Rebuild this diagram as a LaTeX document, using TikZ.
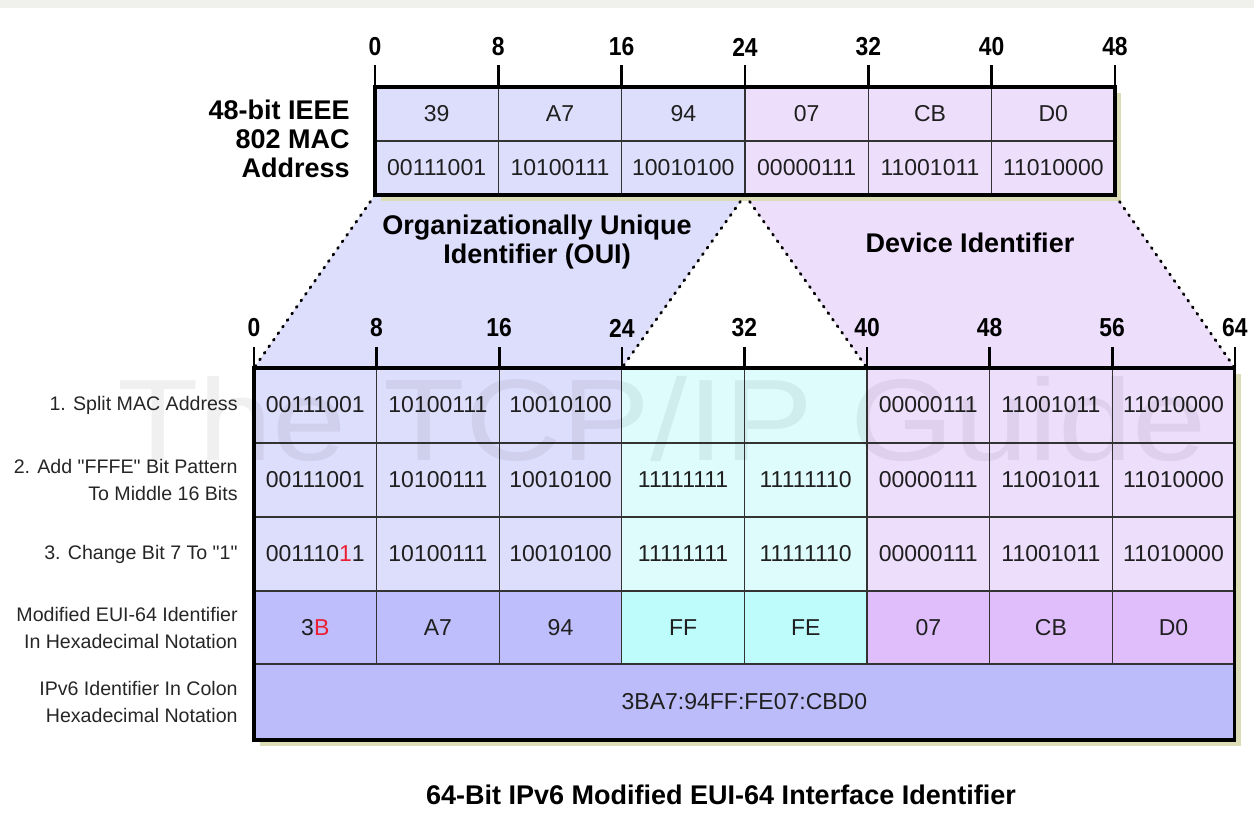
\documentclass[tikz,border=0pt]{standalone}
\usepackage{fontspec}
\setmainfont{Liberation Sans}
\newfontfamily\stepfont{Liberation Sans}
\newfontfamily\ticknumfont[FakeStretch=0.88]{Liberation Sans}
\newfontfamily\markfont[FakeStretch=1.15]{Liberation Sans}
\usetikzlibrary{calc}
\definecolor{bandgray}{RGB}{240,240,236}
\definecolor{ouiPale}{RGB}{221,221,252}
\definecolor{devPale}{RGB}{237,222,252}
\definecolor{midPale}{RGB}{222,252,252}
\definecolor{ouiDeep}{RGB}{190,190,252}
\definecolor{midDeep}{RGB}{190,252,252}
\definecolor{devDeep}{RGB}{224,190,252}
\definecolor{colonDeep}{RGB}{188,188,250}
\definecolor{shadowTan}{RGB}{220,220,182}
\definecolor{bitred}{RGB}{235,30,50}
\newcommand{\redbit}[1]{\textcolor{bitred}{#1}}
\tikzset{
  boxframe/.style={line width=1.6pt,draw=black},
  gridline/.style={line width=0.55pt,draw=black!80},
  rowline/.style={line width=0.9pt,draw=black!80},
  bittick/.style={line width=1.3pt,draw=black},
  zoomline/.style={line width=1.4pt,draw=black,dash pattern=on 0.6pt off 3.4pt,line cap=round},
  dropfill/.style={fill=shadowTan},
  bitnum/.style={font=\ticknumfont\bfseries\fontsize{13}{13}\selectfont,inner sep=0pt},
  celltext/.style={font=\fontsize{11.5}{13}\selectfont,text=black!88,inner sep=0pt},
  steptext/.style={font=\stepfont\fontsize{9.8}{13.5}\selectfont,align=right,anchor=east,inner sep=0pt,text=black!85},
  headtext/.style={font=\bfseries\fontsize{13.5}{14.5}\selectfont,align=center,inner sep=0pt}
}

\begin{document}
\begin{tikzpicture}[x=0.5pt,y=-0.5pt]
  \useasboundingbox (0,0) rectangle (1254,835);
  \fill[bandgray] (0,0) rectangle (1254,8);

  % corners of the two tables
  \coordinate (mac0) at (375,195);
  \coordinate (mac24) at (745,195);
  \coordinate (mac48) at (1115,195);
  \coordinate (eui0) at (254,368);
  \coordinate (eui24) at (621.8,368);
  \coordinate (eui40) at (867,368);
  \coordinate (eui64) at (1234.8,368);

  % zoom areas
  \fill[ouiPale] (mac0) -- (mac24) -- (eui24) -- (eui0) -- cycle;
  \fill[devPale] (mac24) -- (mac48) -- (eui64) -- (eui40) -- cycle;

  % 48-bit MAC address
  \fill[dropfill] (381,93) rectangle (1121,201);
  \fill[ouiPale] (375,87) rectangle (745,195);
  \fill[devPale] (745,87) rectangle (1115,195);
  \draw[gridline] (375,141) -- (1115,141);
  \foreach \i in {1,...,5}{\draw[gridline] ({375+123.33*\i},87) -- ({375+123.33*\i},195);}
  \draw[boxframe] (375,87) rectangle (1115,195);
  \foreach \b [count=\i from 0] in {0,8,16,24,32,40,48}{
    \node[bitnum] (mtick\b) at ({375+123.33*\i},47) {\b};
    \draw[bittick] ({375+123.33*\i},65) -- ({375+123.33*\i},87);
  }
  \foreach \t [count=\i from 0] in {39,A7,94,07,CB,D0}{
    \node[celltext] (mhex\i) at ({375+123.33*(\i+0.5)},114) {\t};}
  \foreach \t [count=\i from 0] in {00111001,10100111,10010100,00000111,11001011,11010000}{
    \node[celltext] (mbin\i) at ({375+123.33*(\i+0.5)},168) {\t};}
  \node[headtext,align=right,anchor=east] (maclabel) at (350,139) {48-bit IEEE\\802 MAC\\Address};

  \node[headtext] (ouilabel) at (537,242) {Organizationally Unique\\Identifier (OUI)};
  \node[headtext] (devlabel) at (970,243) {Device Identifier};

  % 64-bit EUI table
  \fill[dropfill] (260,374) rectangle (1241,746);
  \fill[ouiPale] (254,368) rectangle (621.8,591);
  \fill[midPale] (621.8,368) rectangle (867,591);
  \fill[devPale] (867,368) rectangle (1234.8,591);
  \fill[ouiDeep] (254,591) rectangle (621.8,664);
  \fill[midDeep] (621.8,591) rectangle (867,664);
  \fill[devDeep] (867,591) rectangle (1234.8,664);
  \fill[colonDeep] (254,664) rectangle (1234.8,740);
  \foreach \y in {443,517,591,664}{\draw[rowline] (254,\y) -- (1234.8,\y);}
  \foreach \i in {1,...,7}{\draw[gridline] ({254+122.6*\i},368) -- ({254+122.6*\i},664);}
  \draw[boxframe] (254,368) rectangle (1234.8,740);
  \foreach \b [count=\i from 0] in {0,8,16,24,32,40,48,56,64}{
    \node[bitnum] (etick\b) at ({254+122.6*\i},328) {\b};
    \draw[bittick] ({254+122.6*\i},347) -- ({254+122.6*\i},368);
  }
  \foreach \t [count=\i from 0] in {00111001,10100111,10010100,{},{},00000111,11001011,11010000}{
    \node[celltext] (split\i) at ({254+122.6*(\i+0.5)},405) {\t};}
  \foreach \t [count=\i from 0] in {00111001,10100111,10010100,11111111,11111110,00000111,11001011,11010000}{
    \node[celltext] (fffe\i) at ({254+122.6*(\i+0.5)},480) {\t};}
  \foreach \t [count=\i from 0] in {001110\redbit{1}1,10100111,10010100,11111111,11111110,00000111,11001011,11010000}{
    \node[celltext] (flip\i) at ({254+122.6*(\i+0.5)},554) {\t};}
  \foreach \t [count=\i from 0] in {3\redbit{B},A7,94,FF,FE,07,CB,D0}{
    \node[celltext] (hex\i) at ({254+122.6*(\i+0.5)},628) {\t};}
  \node[celltext] (colonhex) at (744.4,702) {3BA7:94FF:FE07:CBD0};

  \node[steptext] (step1) at (238,405) {1. Split MAC Address};
  \node[steptext] (step2) at (238,480) {2. Add "FFFE" Bit Pattern\\To Middle 16 Bits};
  \node[steptext] (step3) at (238,554) {3. Change Bit 7 To "1"};
  \node[steptext] (step4) at (238,628) {Modified EUI-64 Identifier\\In Hexadecimal Notation};
  \node[steptext] (step5) at (238,702) {IPv6 Identifier In Colon\\Hexadecimal Notation};

  % dotted zoom lines
  \draw[zoomline] (mac0) -- (eui0);
  \draw[zoomline] (mac24) -- (eui24);
  \draw[zoomline] (mac24) -- (eui40);
  \draw[zoomline] (mac48) -- (eui64);

  \node[headtext] (title) at (721,795) {64-Bit IPv6 Modified EUI-64 Interface Identifier};

  % watermark
  \node[font=\markfont\fontsize{58}{58}\selectfont,text=black,opacity=0.06,anchor=base,inner sep=0pt] (mark) at (662,460) {The TCP/IP Guide};
\end{tikzpicture}
\end{document}
